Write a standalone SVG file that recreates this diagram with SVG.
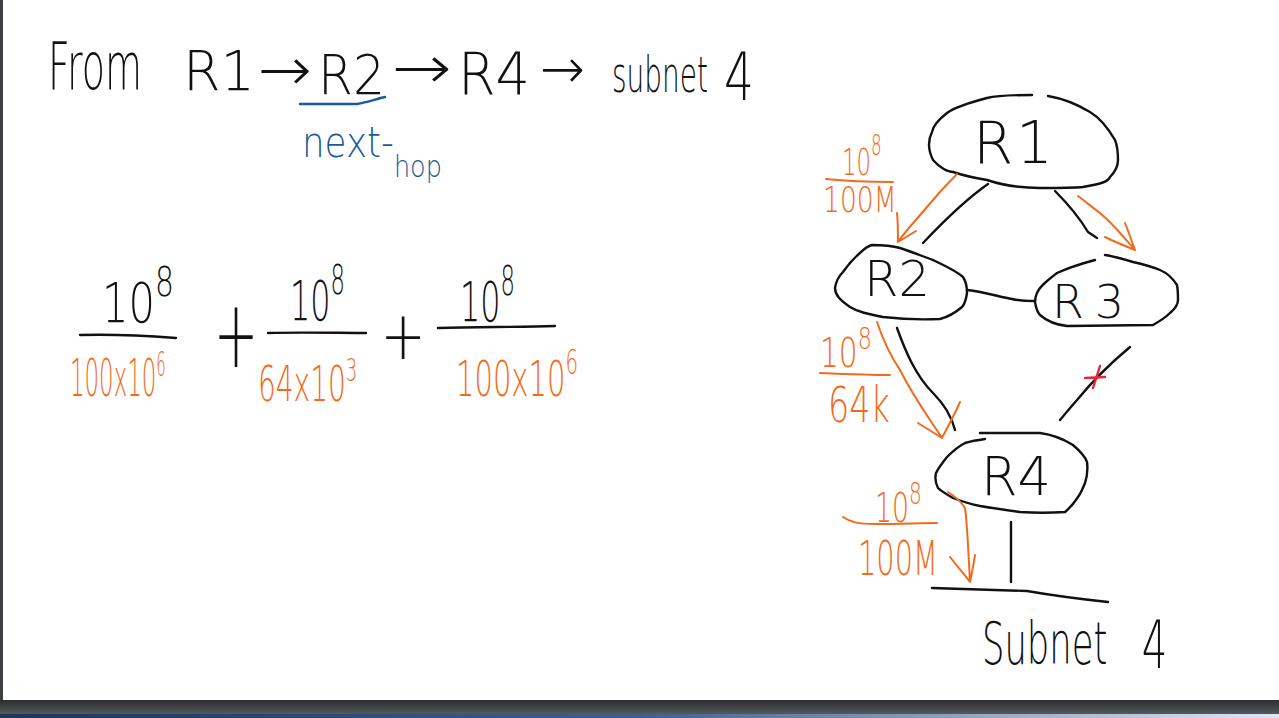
<svg xmlns="http://www.w3.org/2000/svg" width="1279" height="718" viewBox="0 0 1279 718">
<defs>
<linearGradient id="bar" x1="0" y1="0" x2="0" y2="1"><stop offset="0" stop-color="#2b2e30"/><stop offset="1" stop-color="#54595c"/></linearGradient>
<linearGradient id="task" x1="0" y1="0" x2="1" y2="0"><stop offset="0" stop-color="#1b355f"/><stop offset="0.5" stop-color="#3f5f8f"/><stop offset="1" stop-color="#dfe5f6"/></linearGradient>
<style>
.pl{font-family:"DejaVu Sans","Liberation Sans",sans-serif;font-weight:200}
.k{fill:#111}
.o{fill:#f26b1d}
.b{fill:#1b5a98}
.ln{fill:none;stroke:#111;stroke-width:2.4;stroke-linecap:round;stroke-linejoin:round}
.ol{fill:none;stroke:#f26b1d;stroke-width:2;stroke-linecap:round;stroke-linejoin:round}
.bl{fill:none;stroke:#1b5a98;stroke-width:2.4;stroke-linecap:round}
.rl{fill:none;stroke:#e8253c;stroke-width:2.4;stroke-linecap:round}
</style>
</defs>
<rect x="0" y="0" width="1279" height="718" fill="#ffffff"/>
<rect x="0" y="0" width="3" height="700" fill="#3c4043"/>
<rect x="0" y="700" width="1279" height="14" fill="url(#bar)"/>
<rect x="0" y="714" width="1279" height="4" fill="url(#task)"/>

<g id="title" class="pl k">
<text x="48" y="89" font-size="66" textLength="94" lengthAdjust="spacingAndGlyphs">From</text>
<text x="183" y="90" font-size="55" textLength="72" lengthAdjust="spacingAndGlyphs">R1</text>
<text x="258" y="90" font-size="60" textLength="54" lengthAdjust="spacingAndGlyphs">→</text>
<text x="318" y="94" font-size="56" textLength="67" lengthAdjust="spacingAndGlyphs">R2</text>
<text x="392" y="88" font-size="60" textLength="60" lengthAdjust="spacingAndGlyphs">→</text>
<text x="458" y="94" font-size="58" textLength="72" lengthAdjust="spacingAndGlyphs">R4</text>
<text x="540" y="88" font-size="56" textLength="45" lengthAdjust="spacingAndGlyphs">→</text>
<text x="612" y="92" font-size="50" textLength="96" lengthAdjust="spacingAndGlyphs">subnet</text>
<text x="724" y="100" font-size="66" textLength="30" lengthAdjust="spacingAndGlyphs">4</text>
</g>

<g id="next-hop">
<path class="bl" d="M300,104 L357,104 C368,102 376,99 385,97"/>
<text class="pl b" transform="translate(302,157) scale(0.85,1)" font-size="42">next-<tspan dy="20" font-size="30">hop</tspan></text>
</g>

<g id="formula">
<text class="pl k" x="102" y="322" font-size="56" textLength="72" lengthAdjust="spacingAndGlyphs">10<tspan dy="-26" font-size="40">8</tspan></text>
<path class="ln" d="M80,335 C110,334 150,336 176,338"/>
<text class="pl o" transform="translate(70,396) scale(0.44,1)" font-size="52">100x10<tspan dy="-20" font-size="34">6</tspan></text>

<text class="pl k" text-anchor="middle" font-size="56" transform="translate(236,336) scale(0.95,1.7)" y="18">+</text>

<text class="pl k" x="290" y="320" font-size="56" textLength="55" lengthAdjust="spacingAndGlyphs">10<tspan dy="-26" font-size="40">8</tspan></text>
<path class="ln" d="M268,333 C300,332 340,333 366,333"/>
<text class="pl o" transform="translate(258,401) scale(0.56,1)" font-size="50">64x10<tspan dy="-20" font-size="32">3</tspan></text>

<text class="pl k" text-anchor="middle" font-size="54" transform="translate(403,338) scale(1,1.25)" y="17">+</text>

<text class="pl k" x="460" y="321" font-size="56" textLength="55" lengthAdjust="spacingAndGlyphs">10<tspan dy="-26" font-size="40">8</tspan></text>
<path class="ln" d="M438,328 C480,327 520,327 555,326"/>
<text class="pl o" transform="translate(456,396) scale(0.58,1)" font-size="50">100x10<tspan dy="-22" font-size="34">6</tspan></text>
</g>

<g id="connectors">
<path class="ln" d="M988,184 C965,200 940,225 923,243"/>
<path class="ln" d="M1055,191 C1072,208 1082,222 1088,232 L1097,238"/>
<path class="ln" d="M967,290 C985,292 1000,297 1012,299 C1020,301 1028,301 1035,301"/>
<path class="ln" d="M897,328 C905,350 915,375 933,393 C945,405 952,418 955,430"/>
<path class="ln" d="M1130,347 C1112,362 1095,378 1077,400 C1070,408 1065,414 1060,420"/>
<path class="ln" d="M1011,522 L1011,582"/>
<path class="rl" d="M1085,378 L1105,377 M1100,366 L1093,388"/>
</g>

<g id="r1">
<path class="ln" d="M1032,95 C1010,95 995,96 987,98 C968,103 955,107 947,113 C938,120 933,126 932,132 C928,140 928,150 933,160 C940,168 948,172 953,172 C965,176 975,178 987,180 C1005,186 1020,188 1040,188 C1060,188 1073,188 1083,187 C1100,184 1108,182 1110,177 C1117,170 1118,165 1118,160 C1118,150 1117,145 1115,140 C1108,128 1100,118 1090,112 C1075,103 1060,98 1048,96"/>
<text class="pl k" x="973" y="163" font-size="58" textLength="80" lengthAdjust="spacing">R1</text>
</g>

<g id="r2">
<path class="ln" d="M872,245 C885,245 893,246 900,248 C912,252 922,256 933,260 C945,266 955,270 963,277 C967,283 967,288 967,293 C966,300 965,304 962,307 C955,313 948,317 940,319 C920,320 900,319 883,317 C868,314 858,312 850,307 C840,300 835,295 835,288 C836,281 838,277 843,272 C848,265 854,258 860,253 C864,249 868,246 872,245 Z"/>
<text class="pl k" x="864" y="296" font-size="50" textLength="66" lengthAdjust="spacingAndGlyphs">R2</text>
</g>

<g id="r3">
<path class="ln" d="M1095,260 C1080,264 1068,268 1057,273 C1048,280 1040,286 1037,293 C1035,297 1035,300 1035,302 C1036,308 1037,312 1040,315 C1048,322 1057,325 1067,326 L1153,325 C1160,321 1166,317 1170,313 C1176,308 1178,304 1178,300 C1178,294 1178,290 1177,285 C1172,277 1167,273 1160,270 C1150,266 1142,264 1133,262 C1123,259 1113,256 1105,255"/>
<text class="pl k" x="1052" y="318" font-size="46" textLength="72" lengthAdjust="spacing">R3</text>
</g>

<g id="r4">
<path class="ln" d="M980,433 L1040,433 C1055,435 1065,440 1073,445 C1080,451 1085,456 1087,462 C1088,470 1087,477 1085,483 C1083,488 1081,493 1078,497 C1074,503 1070,508 1065,512 C1050,513 1035,513 1020,512 C1005,510 992,508 980,506 C970,504 961,501 953,498 C946,494 941,491 938,488 C935,482 935,477 936,473 C939,467 943,462 947,457 C953,451 959,446 965,443 C972,441 978,440 985,439"/>
<text class="pl k" x="981" y="495" font-size="54" textLength="70" lengthAdjust="spacingAndGlyphs">R4</text>
</g>

<g id="subnet4">
<path class="ln" d="M932,588 L1027,591 C1050,595 1080,599 1108,602"/>
<text class="pl k" transform="translate(982,664) scale(0.61,1)" font-size="58">Subnet<tspan x="262" dy="4" font-size="66">4</tspan></text>
</g>

<g id="costs">
<path class="ol" d="M957,174 C945,186 936,196 927,207 C918,218 906,230 898,242 M897,213 C898,222 898,232 898,242 L916,231"/>
<text class="pl o" transform="translate(842,175) scale(0.6,1)" font-size="38">10<tspan dy="-20" font-size="28">8</tspan></text>
<path class="ol" d="M826,179 C845,181 870,182 893,182"/>
<text class="pl o" transform="translate(823,212) scale(0.76,1)" font-size="35">100M</text>

<path class="ol" d="M1078,196 C1086,202 1093,208 1100,213 C1108,220 1115,227 1120,233 C1126,240 1131,245 1135,250 M1125,223 C1129,233 1132,242 1135,250 C1125,246 1115,242 1105,237"/>

<path class="ol" d="M877,322 C883,340 890,355 900,370 C910,390 920,405 930,420 C935,428 940,434 942,438 M918,423 C926,428 934,433 942,438 C948,426 955,414 960,402"/>
<text class="pl o" transform="translate(820,367) scale(0.74,1)" font-size="40">10<tspan dy="-18" font-size="30">8</tspan></text>
<path class="ol" d="M820,373 C845,374 870,375 890,375"/>
<text class="pl o" transform="translate(828,422) scale(0.67,1)" font-size="50">64k</text>

<path class="ol" d="M948,492 C956,497 962,503 965,508 C967,520 968,545 970,582 M950,557 C957,566 964,574 970,582 C972,572 974,563 975,555"/>
<text class="pl o" transform="translate(875,522) scale(0.67,1)" font-size="40">10<tspan dy="-18" font-size="30">8</tspan></text>
<path class="ol" d="M843,517 C850,522 858,524 875,524 C900,524 920,523 937,523"/>
<text class="pl o" transform="translate(858,575) scale(0.6,1)" font-size="48">100M</text>
</g>
</svg>
